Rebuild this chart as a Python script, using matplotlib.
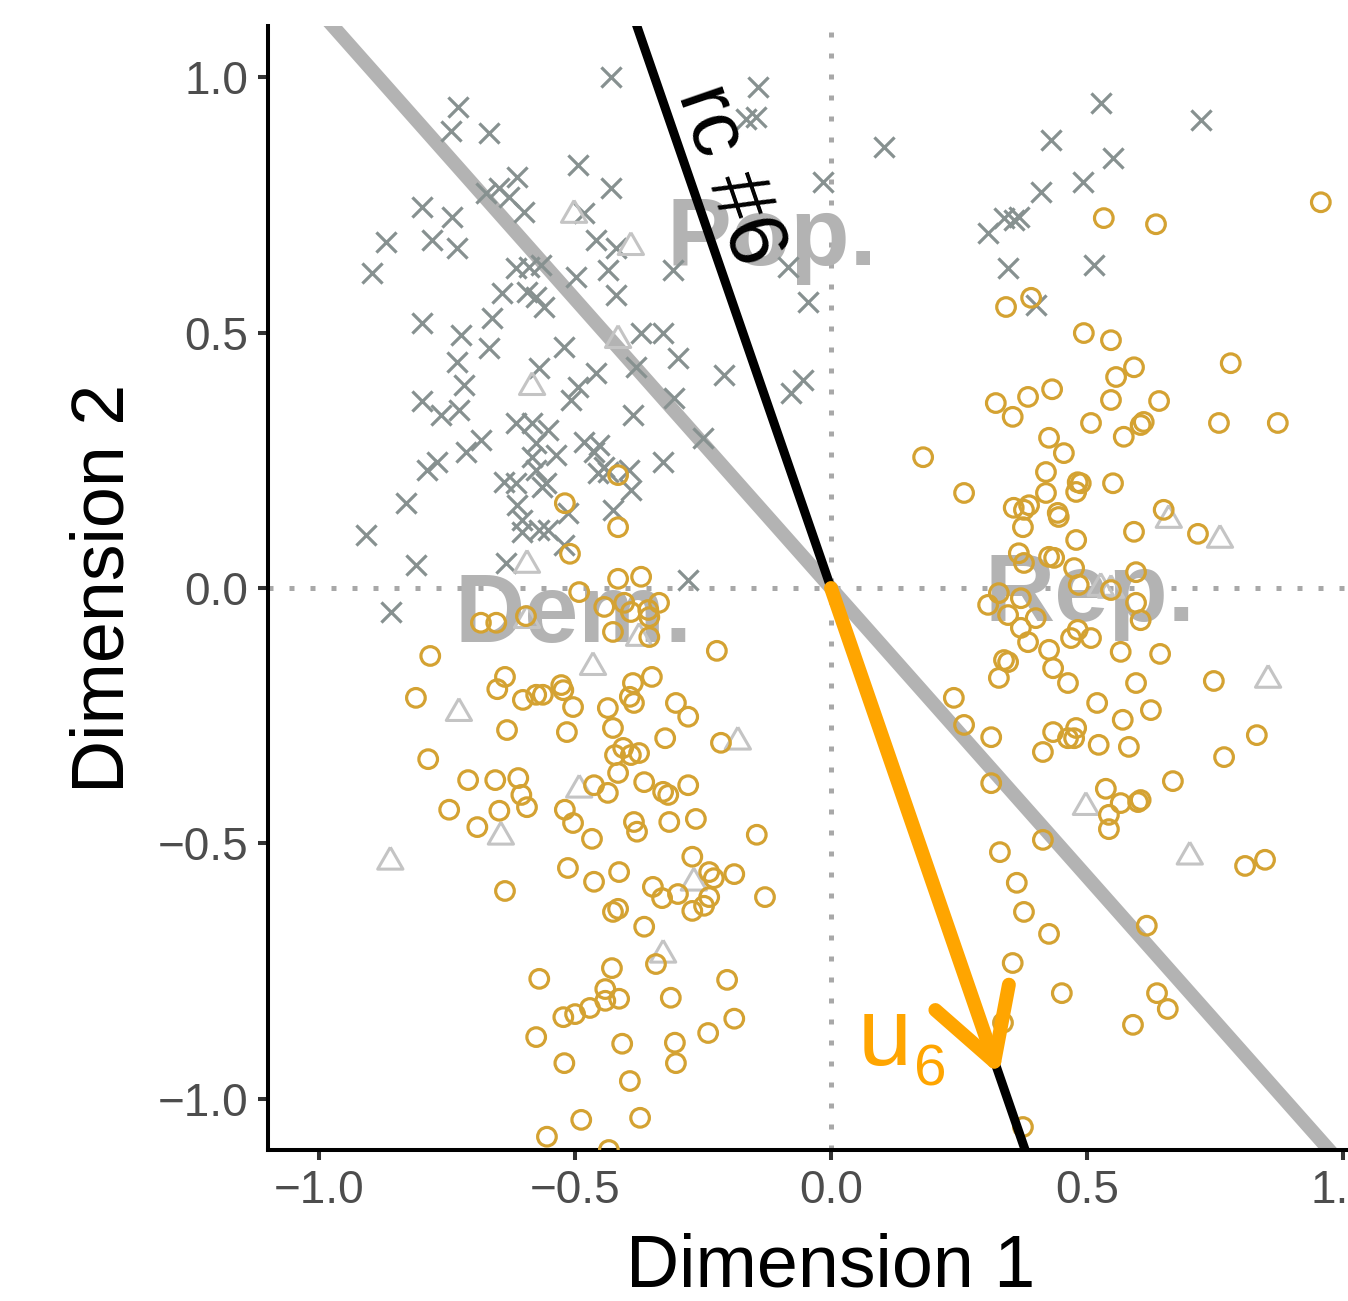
import numpy as np
import matplotlib
matplotlib.use("Agg")
import matplotlib.pyplot as plt

plt.rcParams['font.family'] = ['Liberation Sans', 'DejaVu Sans']

# gray crosses
cross_x = [-0.43, -0.143, -0.146, -0.166, -0.729, -0.742, -0.668, -0.613, -0.648, -0.674,
           -0.629, -0.600, -0.799, -0.740, -0.869, -0.779, -0.730, -0.896, -0.615, -0.590,
           -0.566, -0.643, -0.594, -0.576, -0.561, -0.799, -0.662, -0.723, -0.668, -0.730,
           -0.717, -0.570, -0.799, -0.494, -0.430, -0.482, -0.459, -0.420, -0.436, -0.498,
           -0.420, -0.309, -0.371, -0.328, -0.521, -0.299, -0.459, -0.381, -0.209, -0.494,
           -0.055, -0.078, -0.084, -0.045, -0.016, 0.104,
           0.430, 0.410, 0.492, 0.307, 0.338, 0.357, 0.367, 0.346, 0.400, 0.514,
           0.527, 0.723, 0.551,
           -0.762, -0.727, -0.684, -0.713, -0.770, -0.789, -0.830, -0.908, -0.811, -0.859,
           -0.635, -0.639, -0.615, -0.613, -0.604, -0.604, -0.570, -0.615, -0.584, -0.576,
           -0.584, -0.576, -0.564, -0.508, -0.387, -0.307, -0.250, -0.553, -0.482, -0.453,
           -0.537, -0.463, -0.443, -0.436, -0.455, -0.395, -0.391, -0.328, -0.557, -0.514,
           -0.426, -0.553, -0.521, -0.279]
cross_y = [1.00, 0.980, 0.922, 0.918, 0.941, 0.894, 0.890, 0.804, 0.783, 0.773,
           0.765, 0.736, 0.746, 0.726, 0.677, 0.681, 0.665, 0.616, 0.626, 0.628,
           0.632, 0.577, 0.579, 0.569, 0.550, 0.519, 0.528, 0.495, 0.470, 0.442,
           0.397, 0.430, 0.366, 0.828, 0.783, 0.734, 0.681, 0.665, 0.622, 0.609,
           0.573, 0.622, 0.499, 0.499, 0.472, 0.450, 0.421, 0.432, 0.417, 0.393,
           0.407, 0.382, 0.628, 0.560, 0.795, 0.863,
           0.877, 0.775, 0.795, 0.695, 0.724, 0.720, 0.726, 0.626, 0.554, 0.632,
           0.949, 0.916, 0.841,
           0.339, 0.348, 0.290, 0.266, 0.247, 0.231, 0.166, 0.104, 0.045, -0.047,
           0.049, 0.207, 0.205, 0.162, 0.133, 0.110, 0.114, 0.323, 0.323, 0.284,
           0.256, 0.231, 0.198, 0.368, 0.339, 0.372, 0.294, 0.309, 0.286, 0.280,
           0.260, 0.266, 0.237, 0.227, 0.225, 0.231, 0.192, 0.247, 0.205, 0.147,
           0.153, 0.114, 0.084, 0.016]

# light gray triangles
tri_x = [-0.502, -0.391, -0.584, -0.416, -0.594, -0.594, -0.727, -0.465, -0.375, -0.182,
         -0.492, -0.861, -0.645, -0.268, -0.328, 0.660, 0.760, 0.547, 0.527, 0.854,
         0.498, 0.701]
tri_y = [0.730, 0.667, 0.393, 0.485, 0.045, -0.063, -0.245, -0.155, -0.098, -0.301,
         -0.395, -0.536, -0.487, -0.577, -0.718, 0.133, 0.094, -0.004, 0.0, -0.180,
         -0.429, -0.526]

# gold circles
circ_x = [0.342, 0.391, 0.494, 0.547, 0.592, 0.557, 0.781, 0.533, 0.635, 0.957,
          0.322, 0.385, 0.432, 0.547, 0.641, 0.355, 0.180, 0.260, 0.426, 0.455,
          0.420, 0.482, 0.479, 0.420, 0.357, 0.387, 0.377, 0.443, 0.445, 0.375,
          0.479, 0.367, 0.377, 0.426, 0.436, 0.475, 0.484, 0.328, 0.307, 0.371,
          0.346, 0.400, 0.371, 0.385, 0.469, 0.482, 0.426, 0.338, 0.346, 0.328,
          0.434, 0.463, 0.240, 0.260, 0.313, 0.434, 0.479, 0.463, 0.475, 0.414,
          0.313, 0.520,
          0.508, 0.611, 0.605, 0.572, 0.758, 0.873, 0.488, 0.551, 0.650, 0.592,
          0.717, 0.596, 0.547, 0.596, 0.605, 0.508, 0.566, 0.643, 0.596, 0.748,
          0.625, 0.570, 0.523, 0.582, 0.832, 0.768, 0.668, 0.537,
          0.566, 0.600, 0.605, 0.543, 0.543, 0.809, 0.848, 0.617, 0.637, 0.658,
          0.590,
          0.414, 0.330, 0.363, 0.377, 0.426, 0.355, 0.451, 0.336, 0.375,
          -0.416, -0.520, -0.416, -0.510, -0.416, -0.371, -0.492, -0.443, -0.404, -0.391,
          -0.357, -0.336, -0.355, -0.426, -0.355, -0.223, -0.527, -0.523, -0.387, -0.350,
          -0.393, -0.385, -0.563, -0.504, -0.436, -0.303, -0.279, -0.516, -0.426, -0.324,
          -0.215, -0.406, -0.422, -0.391, -0.375, -0.416,
          -0.684, -0.654, -0.596, -0.783, -0.637, -0.652, -0.602, -0.576, -0.811, -0.633,
          -0.787, -0.709, -0.656, -0.611, -0.605,
          -0.746, -0.691, -0.648, -0.594, -0.637, -0.570, -0.576, -0.555,
          -0.463, -0.436, -0.365, -0.328, -0.318, -0.279, -0.520, -0.504, -0.385, -0.379,
          -0.316, -0.264, -0.467, -0.145, -0.271, -0.514, -0.414, -0.463, -0.238, -0.229,
          -0.189, -0.348, -0.330, -0.299, -0.238, -0.248, -0.271, -0.426, -0.416, -0.129,
          -0.365, -0.428, -0.342, -0.441, -0.414, -0.441, -0.471, -0.500, -0.523, -0.313,
          -0.203, -0.189, -0.240, -0.408, -0.305, -0.303, -0.521, -0.393, -0.488, -0.373,
          -0.434]
circ_y = [0.550, 0.568, 0.499, 0.485, 0.432, 0.413, 0.440, 0.724, 0.712, 0.755,
          0.362, 0.374, 0.389, 0.368, 0.366, 0.335, 0.256, 0.186, 0.294, 0.264,
          0.227, 0.207, 0.188, 0.186, 0.157, 0.162, 0.153, 0.147, 0.139, 0.119,
          0.094, 0.068, 0.049, 0.061, 0.059, 0.039, 0.006, -0.010, -0.033, -0.020,
          -0.053, -0.059, -0.078, -0.106, -0.098, -0.082, -0.121, -0.141, -0.145, -0.176,
          -0.157, -0.186, -0.215, -0.268, -0.292, -0.282, -0.274, -0.294, -0.294, -0.321,
          -0.382, -0.225,
          0.323, 0.325, 0.319, 0.296, 0.323, 0.323, 0.205, 0.205, 0.153, 0.110,
          0.106, 0.031, -0.004, -0.029, -0.063, -0.098, -0.125, -0.129, -0.186, -0.182,
          -0.239, -0.258, -0.307, -0.311, -0.288, -0.331, -0.378, -0.393,
          -0.421, -0.419, -0.415, -0.444, -0.472, -0.544, -0.532, -0.661, -0.793, -0.824,
          -0.855,
          -0.493, -0.517, -0.577, -0.634, -0.677, -0.734, -0.793, -0.851, -1.055,
          0.221, 0.166, 0.119, 0.067, 0.018, 0.022, -0.008, -0.037, -0.029, -0.047,
          -0.043, -0.029, -0.057, -0.086, -0.096, -0.123, -0.190, -0.200, -0.186, -0.174,
          -0.213, -0.225, -0.209, -0.233, -0.235, -0.225, -0.252, -0.282, -0.274, -0.294,
          -0.303, -0.313, -0.327, -0.327, -0.323, -0.362,
          -0.068, -0.068, -0.055, -0.133, -0.174, -0.198, -0.219, -0.209, -0.215, -0.278,
          -0.335, -0.376, -0.376, -0.372, -0.405,
          -0.434, -0.468, -0.436, -0.429, -0.593, -0.765, -0.879, -1.074,
          -0.386, -0.401, -0.380, -0.399, -0.405, -0.386, -0.434, -0.460, -0.458, -0.477,
          -0.458, -0.452, -0.491, -0.483, -0.526, -0.548, -0.556, -0.575, -0.556, -0.568,
          -0.560, -0.585, -0.607, -0.599, -0.605, -0.622, -0.632, -0.634, -0.628, -0.605,
          -0.663, -0.744, -0.736, -0.785, -0.804, -0.808, -0.822, -0.834, -0.840, -0.802,
          -0.767, -0.843, -0.871, -0.892, -0.890, -0.930, -0.930, -0.965, -1.041, -1.037,
          -1.100]

# cutting line, rc #6 line and its normal vector
cut_slope = -1.13
rc_slope = -2.9
u6_vec = (0.328, -0.953)

# group labels
group_names = ['Pop.', 'Dem.', 'Rep.']
group_x = [-0.115, -0.504, 0.506]
group_y = [0.632, -0.106, -0.065]

tick_vals = [-1.0, -0.5, 0.0, 0.5, 1.0]
tick_labels = [f'{v:.1f}'.replace('-', '\u2212') for v in tick_vals]

fig = plt.figure(figsize=(13.48, 13.01), dpi=100)
ax = fig.add_axes([268 / 1348, 151 / 1301, 1126 / 1348, 1124 / 1301])
ax.set_xlim(-1.1, 1.1)
ax.set_ylim(-1.1, 1.1)

## DOTTED REFERENCE LINES THROUGH THE ORIGIN
ax.axhline(0, color='#a8a8a8', lw=3.6, ls=(0, (1, 3.2)), zorder=1)
ax.axvline(0, color='#a8a8a8', lw=3.6, ls=(0, (1, 3.2)), zorder=1)

## BIG GRAY GROUP LABELS
for name, gx, gy in zip(group_names, group_x, group_y):
    ax.text(gx, gy, name, fontsize=70, fontweight='bold', color='#b3b3b3',
            ha='center', va='baseline', zorder=1.5)

ax.axline((0, 0), slope=cut_slope, color='#b3b3b3', lw=10, zorder=2)

## POINTS
ax.scatter(cross_x, cross_y, marker='x', s=14.5 ** 2, linewidths=2.3,
           color='#879190', zorder=3)
tri_marker = [(0, 1), (-0.866, -0.5), (0.866, -0.5), (0, 1)]
ax.scatter(tri_x, tri_y, marker=tri_marker, s=21 ** 2, facecolors='none',
           edgecolors='#c4c4c4', linewidths=2.2, zorder=3)
ax.scatter(circ_x, circ_y, marker='o', s=13.4 ** 2, facecolors='none',
           edgecolors='#d4a232', linewidths=2.3, zorder=3)

ax.axline((0, 0), slope=rc_slope, color='black', lw=6.5, zorder=4)

## NORMAL VECTOR ARROW
ax.annotate('', xy=u6_vec, xytext=(0, 0),
            arrowprops=dict(arrowstyle='->,head_length=49,head_width=28',
                            mutation_scale=1, color='#ffa500', lw=10,
                            shrinkA=0, shrinkB=0),
            zorder=5)
ax.text(0.105, -0.933, 'u', fontsize=70, color='#ffa500', ha='center',
        va='baseline', zorder=6)
ax.text(0.195, -0.973, '6', fontsize=42, color='#ffa500', ha='center',
        va='baseline', zorder=6)

rc_angle = np.degrees(np.arctan(rc_slope))
ax.text(-0.199, 0.808, 'rc #6', fontsize=60, color='black', rotation=rc_angle,
        rotation_mode='anchor', ha='center', va='center', zorder=6)

## AXES STYLE
for side in ['top', 'right']:
    ax.spines[side].set_visible(False)
for side in ['left', 'bottom']:
    ax.spines[side].set_linewidth(2.9)
    ax.spines[side].set_color('black')
ax.set_xticks(tick_vals)
ax.set_xticklabels(tick_labels)
ax.set_yticks(tick_vals)
ax.set_yticklabels(tick_labels)
ax.tick_params(direction='out', length=7, width=2.9, color='#333333',
               labelcolor='#4d4d4d', labelsize=33, pad=7)
ax.set_xlabel('Dimension 1', fontsize=53, labelpad=14)
ax.set_ylabel('Dimension 2', fontsize=53, labelpad=14)

fig.savefig('out.png', dpi=100)
